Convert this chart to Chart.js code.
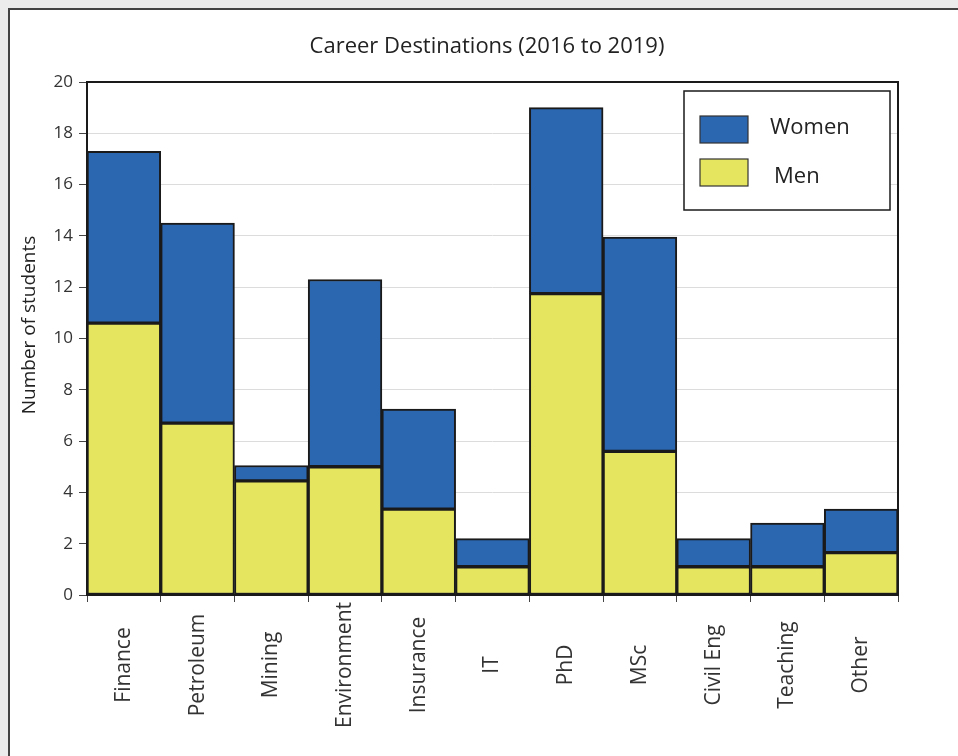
<!DOCTYPE html>
<html lang="en">
<head>
    <meta charset="UTF-8">
    <title>Career Destinations</title>
    <script src="https://cdn.jsdelivr.net/npm/chart.js"></script>
    <style>
        body {
            margin: 0;
            padding: 0;
            background-color: #ececec;
            overflow: hidden;
        }
        #frame {
            position: absolute;
            left: 8px;
            top: 8px;
            width: 960px;
            height: 760px;
            background: #fff;
            border-top: 2px solid #444;
            border-left: 2px solid #444;
        }
        #wrap {
            position: absolute;
            left: 0;
            top: 0;
            width: 958px;
            height: 756px;
        }
    </style>
</head>
<body>
    <div id="frame"></div>
    <div id="wrap"><canvas id="careerChart"></canvas></div>

    <script>
        const chartTitle = 'Career Destinations (2016 to 2019)';
        const yTitle = 'Number of students';
        const categories = ['Finance', 'Petroleum', 'Mining', 'Environment', 'Insurance', 'IT',
                            'PhD', 'MSc', 'Civil Eng', 'Teaching', 'Other'];
        const men   = [10.6, 6.7, 4.45, 5.0, 3.35, 1.1, 11.75, 5.6, 1.1, 1.1, 1.65];
        const women = [6.7, 7.8, 0.6, 7.3, 3.9, 1.1, 7.25, 8.35, 1.1, 1.7, 1.7];
        const yTicks = [0, 2, 4, 6, 8, 10, 12, 14, 16, 18, 20];

        const font = "'Open Sans', sans-serif";
        const textColor = '#333';
        const edge = '#1a1a1a';

        // titre, titre de l'axe y, libellés x centrés, cadre et légende
        const boxPlugin = {
            id: 'boxPlugin',
            afterDatasetsDraw(chart) {
                const ctx = chart.ctx;
                const a = chart.chartArea;
                const xs = chart.scales.x;
                ctx.save();

                // cadre de la zone de tracé
                ctx.strokeStyle = edge;
                ctx.lineWidth = 2;
                ctx.strokeRect(a.left, a.top, a.right - a.left, a.bottom - a.top);

                // titre
                ctx.fillStyle = '#222';
                ctx.font = "22px " + font;
                ctx.textAlign = 'center';
                ctx.textBaseline = 'middle';
                ctx.fillText(chartTitle, 487, 47);

                // titre axe y
                ctx.save();
                ctx.translate(30, 325);
                ctx.rotate(-Math.PI / 2);
                ctx.font = "19px " + font;
                ctx.fillText(yTitle, 0, 0);
                ctx.restore();

                // libellés des catégories (verticaux, centrés)
                ctx.fillStyle = textColor;
                ctx.font = "21px " + font;
                categories.forEach((c, i) => {
                    ctx.save();
                    ctx.translate(xs.getPixelForTick(i), 665);
                    ctx.rotate(-Math.PI / 2);
                    ctx.fillText(c, 0, 0);
                    ctx.restore();
                });

                // légende
                const lx = 684, ly = 91, lw = 206, lh = 119;
                ctx.fillStyle = '#fff';
                ctx.fillRect(lx, ly, lw, lh);
                ctx.strokeStyle = edge;
                ctx.lineWidth = 1.5;
                ctx.strokeRect(lx, ly, lw, lh);
                const items = [
                    { ds: chart.data.datasets[1], y: 116, tx: 770, ty: 128 },
                    { ds: chart.data.datasets[0], y: 159, tx: 774, ty: 177 }
                ];
                ctx.textAlign = 'left';
                items.forEach(it => {
                    ctx.fillStyle = it.ds.backgroundColor;
                    ctx.fillRect(700, it.y, 48, 27);
                    ctx.strokeStyle = '#333';
                    ctx.lineWidth = 1.2;
                    ctx.strokeRect(700, it.y, 48, 27);
                    ctx.fillStyle = '#222';
                    ctx.font = "22px " + font;
                    ctx.fillText(it.ds.label, it.tx, it.ty);
                });
                ctx.restore();
            }
        };

        new Chart(document.getElementById('careerChart'), {
            type: 'bar',
            data: {
                labels: categories,
                datasets: [
                    {
                        label: 'Men',
                        data: men,
                        backgroundColor: '#e5e55f',
                        borderColor: edge,
                        borderWidth: 2,
                        borderSkipped: false
                    },
                    {
                        label: 'Women',
                        data: women,
                        backgroundColor: '#2b66b1',
                        borderColor: edge,
                        borderWidth: 2,
                        borderSkipped: false
                    }
                ]
            },
            options: {
                responsive: true,
                maintainAspectRatio: false,
                animation: false,
                layout: { padding: { left: 10, right: 60, top: 82, bottom: 0 } },
                datasets: { bar: { categoryPercentage: 1, barPercentage: 1 } },
                plugins: {
                    legend: { display: false },
                    tooltip: { enabled: false },
                    title: { display: false }
                },
                scales: {
                    x: {
                        stacked: true,
                        grid: {
                            offset: true,
                            drawOnChartArea: false,
                            tickLength: 7,
                            tickColor: '#444'
                        },
                        border: { display: false },
                        ticks: { display: false },
                        afterFit(scale) { scale.height = 161; }
                    },
                    y: {
                        stacked: true,
                        min: 0,
                        max: 20,
                        afterBuildTicks(scale) {
                            scale.ticks = yTicks.map(v => ({ value: v }));
                        },
                        grid: {
                            color: '#dcdcdc',
                            tickLength: 8,
                            tickColor: '#444'
                        },
                        border: { display: false },
                        ticks: {
                            color: textColor,
                            font: { family: font, size: 17 },
                            padding: 6
                        },
                        afterFit(scale) { scale.width = 77; }
                    }
                }
            },
            plugins: [boxPlugin]
        });
    </script>
</body>
</html>
